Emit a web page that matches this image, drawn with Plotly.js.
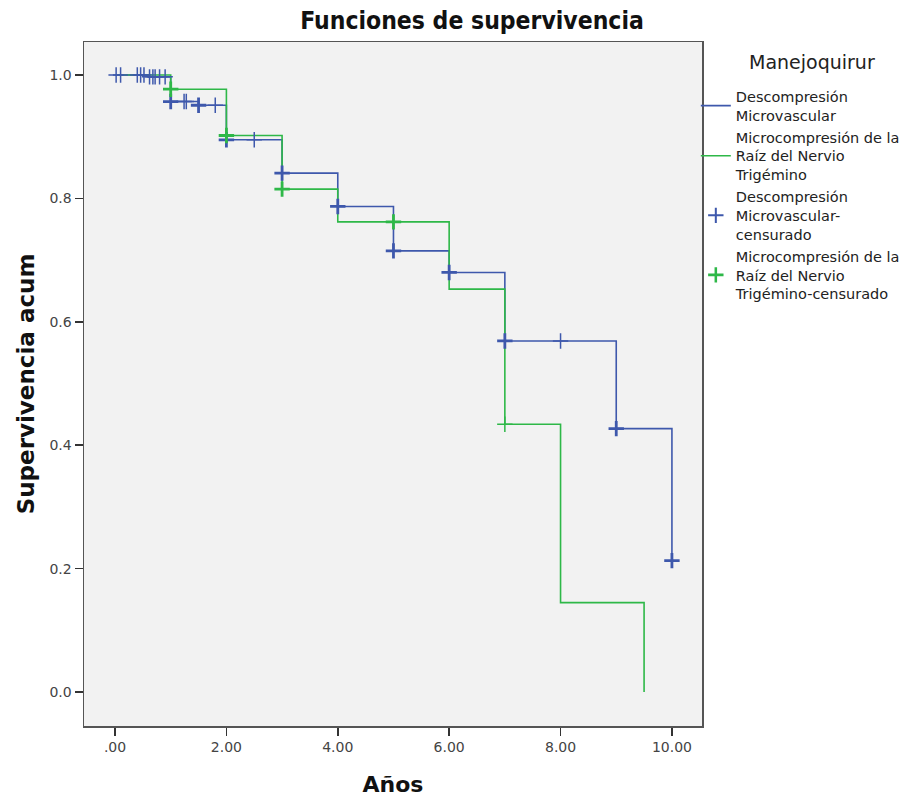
<!DOCTYPE html>
<html>
<head>
<meta charset="utf-8">
<script src="https://cdn.plot.ly/plotly-3.0.1.min.js"></script>
<style>html,body{margin:0;padding:0;background:#fff;}#chart{width:921px;height:804px;}</style>
</head>
<body>
<div id="chart"></div>
<script>
// Kaplan-Meier step data
const legendTitle = "Manejoquirur";
const groupNames = [
  "Descompresión<br>Microvascular",
  "Microcompresión de la<br>Raíz del Nervio<br>Trigémino",
  "Descompresión<br>Microvascular-<br>censurado",
  "Microcompresión de la<br>Raíz del Nervio<br>Trigémino-censurado"
];
const blueTimes = [0, 0.6, 1, 1.5, 2, 3, 4, 5, 6, 7, 9, 10];
const blueSurv  = [1, 0.997, 0.957, 0.951, 0.895, 0.841, 0.787, 0.715, 0.680, 0.569, 0.427, 0.213];
const greenTimes = [0, 1, 2, 3, 4, 6, 7, 8, 9.5];
const greenSurv  = [1, 0.977, 0.902, 0.815, 0.762, 0.653, 0.434, 0.145, 0];

// censored observations (time, number censored at that time)
const blueCensTimes  = [0.02, 0.1, 0.4, 0.46, 0.52, 0.62, 0.68, 0.72, 0.8, 0.9, 1, 1.24, 1.28, 1.5, 1.8, 2, 2.5, 3, 4, 5, 6, 7, 8, 9, 10];
const blueCensCount  = [1, 1, 1, 1, 1, 1, 1, 1, 1, 1, 3, 1, 1, 2, 1, 3, 1, 3, 3, 2, 2, 3, 1, 2, 2];
const greenCensTimes = [1, 2, 3, 5, 7];
const greenCensCount = [3, 3, 3, 2, 1];

const xTicks = [0, 2, 4, 6, 8, 10];
const xTickText = [".00", "2.00", "4.00", "6.00", "8.00", "10.00"];
const yTicks = [0, 0.2, 0.4, 0.6, 0.8, 1.0];
const yTickText = ["0.0", "0.2", "0.4", "0.6", "0.8", "1.0"];

const BLUE = "#3E58AC", GREEN = "#2EB848";

function survAt(times, surv, t) {
  let s = surv[0];
  for (let i = 0; i < times.length; i++) { if (times[i] <= t + 1e-9) s = surv[i]; }
  return s;
}

const traces = [
  {x: blueTimes, y: blueSurv, type: "scatter", mode: "lines", line: {shape: "hv", color: BLUE, width: 1.6}, name: groupNames[0]},
  {x: greenTimes, y: greenSurv, type: "scatter", mode: "lines", line: {shape: "hv", color: GREEN, width: 1.6}, name: groupNames[1]},
  {x: blueCensTimes, y: blueCensTimes.map(t => survAt(blueTimes, blueSurv, t)), type: "scatter", mode: "lines+markers",
   line: {width: 0, color: BLUE},
   marker: {symbol: "cross-thin", size: 11, color: BLUE, line: {color: BLUE, width: blueCensCount.map(c => c > 1 ? 2.8 : 1.5)}},
   name: groupNames[2]},
  {x: greenCensTimes, y: greenCensTimes.map(t => survAt(greenTimes, greenSurv, t)), type: "scatter", mode: "lines+markers",
   line: {width: 0, color: GREEN},
   marker: {symbol: "cross-thin", size: 11, color: GREEN, line: {color: GREEN, width: greenCensCount.map(c => c > 1 ? 2.8 : 1.5)}},
   name: groupNames[3]}
];

const layout = {
  width: 921, height: 804,
  margin: {l: 84, r: 219, t: 42, b: 78, autoexpand: false},
  paper_bgcolor: "#ffffff",
  plot_bgcolor: "#f2f2f2",
  font: {family: "DejaVu Sans, sans-serif", color: "#333"},
  title: {text: "Funciones de supervivencia", font: {family: "DejaVu Sans Condensed, DejaVu Sans, sans-serif", size: 24.5, color: "#111", weight: "bold"},
          xref: "container", x: 0.5125, xanchor: "center", yref: "container", y: 0.975, yanchor: "middle"},
  xaxis: {range: [-0.557, 10.54], tickvals: xTicks, ticktext: xTickText, ticks: "outside", ticklen: 8, tickwidth: 1.5, tickcolor: "#333",
          showgrid: false, zeroline: false, showline: true, mirror: true, linecolor: "#555", linewidth: 1.5,
          tickfont: {size: 14, color: "#444"},
          title: {text: "Años", font: {size: 22, color: "#111", weight: "bold"}, standoff: 22}},
  yaxis: {range: [-0.055, 1.0535], tickvals: yTicks, ticktext: yTickText, ticks: "outside", ticklen: 8, tickwidth: 1.5, tickcolor: "#333",
          showgrid: false, zeroline: false, showline: true, mirror: true, linecolor: "#555", linewidth: 1.5,
          tickfont: {size: 14, color: "#444"},
          title: {text: "Supervivencia acum", font: {size: 23, color: "#111", weight: "bold"}, standoff: 8}},
  legend: {x: 0.99, xanchor: "left", y: 0.944, yanchor: "top", bgcolor: "rgba(0,0,0,0)",
           font: {size: 14.5, color: "#222"}, tracegroupgap: 0},
  annotations: [{text: legendTitle, xref: "paper", yref: "paper", x: (812 - 84) / 618, y: (726 - 62) / 684,
                 xanchor: "center", yanchor: "middle", showarrow: false, font: {size: 19, color: "#222"}}],
  showlegend: true
};

Plotly.newPlot("chart", traces, layout, {displayModeBar: false, staticPlot: true});
</script>
</body>
</html>
